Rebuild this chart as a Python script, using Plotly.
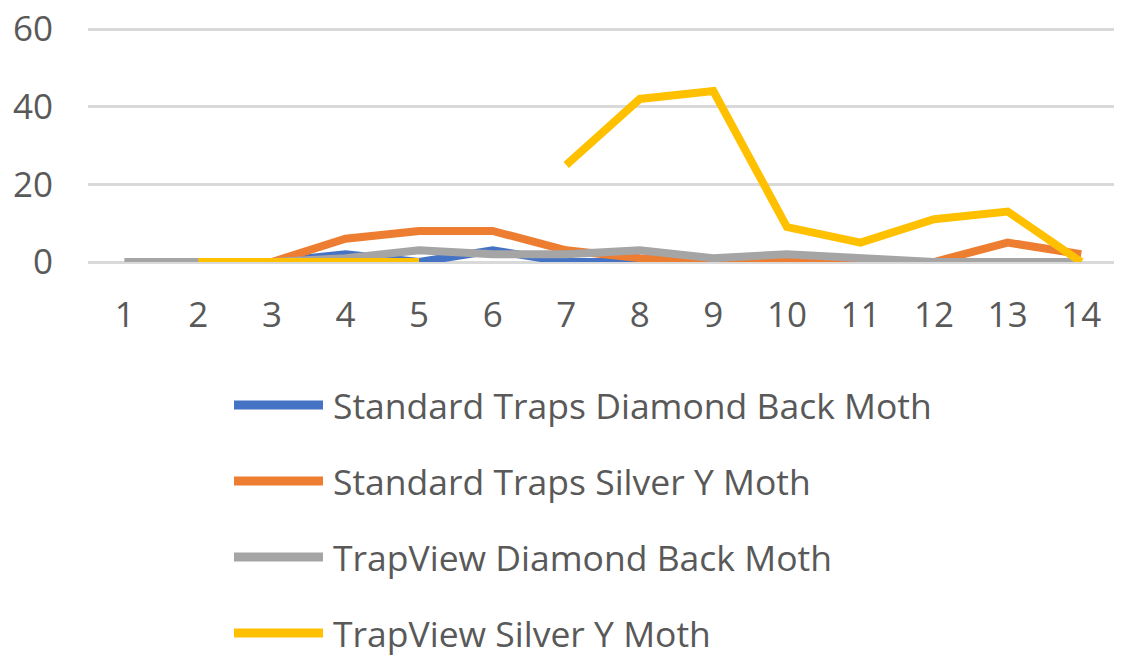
import plotly.graph_objects as go

weeks = list(range(1, 15))
std_dbm = [0, 0, 0, 2, 0, 3, 0, 0, 0, 0, 0, 0, 0, 0]
std_sym = [0, 0, 0, 6, 8, 8, 3, 1, 0, 0, 0, 0, 5, 2]
tv_dbm = [0, 0, 0, 1, 3, 2, 2, 3, 1, 2, 1, 0, 0, 0]
tv_sym = [None, 0, 0, 0, 0, None, 25, 42, 44, 9, 5, 11, 13, 0]

series_names = [
    "Standard Traps Diamond Back Moth",
    "Standard Traps Silver Y Moth",
    "TrapView Diamond Back Moth",
    "TrapView Silver Y Moth",
]
series_values = [std_dbm, std_sym, tv_dbm, tv_sym]
series_colors = ["#4472C4", "#ED7D31", "#A5A5A5", "#FFC000"]

y_ticks = [0, 20, 40, 60]

# the page body has an 8px margin, so the figure is 8px smaller
OFF = 8
W, H = 1122 - OFF, 655 - OFF
ML, MR, MT = 88 - OFF, 4, 19
plot_bottom = 262 - OFF
MB = H - plot_bottom
plot_h = H - MT - MB
plot_w = W - ML - MR
px_per_unit = (262 - 29) / 60.0
y_top = plot_h / px_per_unit

fig = go.Figure()
for name, vals, col in zip(series_names, series_values, series_colors):
    fig.add_trace(go.Scatter(
        x=weeks, y=vals, name=name, mode="lines",
        line=dict(color=col, width=8),
        connectgaps=False, showlegend=False,
    ))

# custom legend (long line symbols like the original)
font_fam = "Open Sans, Noto Sans, sans-serif"
leg_y0 = 405 - OFF
leg_dy = 76
for i, (name, col) in enumerate(zip(series_names, series_colors)):
    py = leg_y0 + i * leg_dy
    yp = (plot_bottom - py) / plot_h
    x0p = (234 - OFF - ML) / plot_w
    x1p = (323 - OFF - ML) / plot_w
    fig.add_shape(type="line", xref="paper", yref="paper",
                  x0=x0p, x1=x1p, y0=yp, y1=yp,
                  line=dict(color=col, width=9))
    fig.add_annotation(xref="paper", yref="paper", x=(331 - OFF - ML) / plot_w, y=yp,
                       xanchor="left", yanchor="middle", showarrow=False,
                       text=name, font=dict(family=font_fam, size=35.5, color="#595959"))

fig.update_layout(
    width=W, height=H,
    margin=dict(l=ML, r=MR, t=MT, b=MB, autoexpand=False),
    paper_bgcolor="white", plot_bgcolor="white",
    showlegend=False,
    font=dict(family=font_fam, color="#595959"),
)
fig.update_xaxes(
    range=[0.5, 14.5], tickmode="array", tickvals=weeks,
    ticktext=[str(w) for w in weeks],
    showgrid=False, zeroline=False, showline=False, automargin=False,
    ticks="", ticklabelstandoff=29, ticklabeloverflow="allow",
    tickfont=dict(size=35, color="#595959", family=font_fam),
)
fig.update_yaxes(
    range=[0, y_top], tickmode="array", tickvals=y_ticks,
    showgrid=True, gridcolor="#D9D9D9", gridwidth=3,
    zeroline=True, zerolinecolor="#D9D9D9", zerolinewidth=3,
    showline=False, automargin=False,
    ticks="", ticklabelstandoff=34, ticklabeloverflow="allow",
    tickfont=dict(size=35, color="#595959", family=font_fam),
)

fig.write_html("out.html")
